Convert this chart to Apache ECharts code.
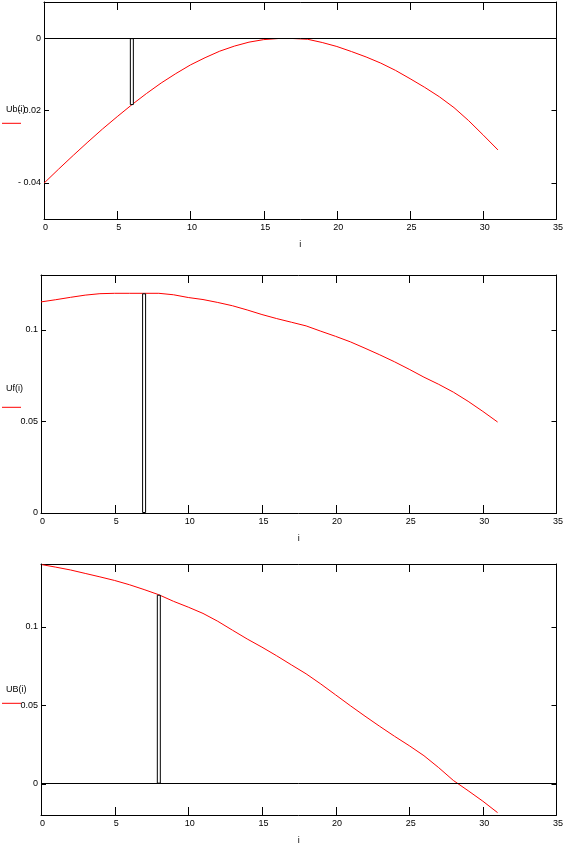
<!DOCTYPE html>
<html>
<head>
<meta charset="utf-8">
<script src="https://cdn.jsdelivr.net/npm/echarts@6/dist/echarts.min.js"></script>
<style>
html,body{margin:0;padding:0;background:#fff;}
#chart{width:566px;height:846px;}
</style>
</head>
<body>
<div id="chart"></div>
<script>
// index values i = 0..31
const iValues = [0,1,2,3,4,5,6,7,8,9,10,11,12,13,14,15,16,17,18,19,20,21,22,23,24,25,26,27,28,29,30,31];

// Plot 1: Ub(i)
const ub = [-0.0401,-0.0362,-0.0324,-0.0287,-0.0251,-0.0217,-0.0184,-0.0153,-0.0124,-0.0098,
            -0.0074,-0.0054,-0.0036,-0.0022,-0.0011,-0.0004,-0.0001,-0.0001,-0.0003,-0.0012,
            -0.0023,-0.0037,-0.0052,-0.0069,-0.0089,-0.0112,-0.0136,-0.0162,-0.0192,-0.0228,
            -0.0268,-0.0309];
// Plot 2: Uf(i)
const uf = [0.1153,0.1165,0.1178,0.1190,0.1198,0.1200,0.1200,0.1200,0.1200,0.1192,
            0.1177,0.1166,0.1150,0.1132,0.1109,0.1084,0.1062,0.1042,0.1022,0.0993,
            0.0965,0.0935,0.0900,0.0864,0.0826,0.0785,0.0742,0.0703,0.0660,0.0610,
            0.0555,0.0497];
// Plot 3: UB(i)
const uB = [0.1397,0.1380,0.1362,0.1340,0.1318,0.1295,0.1268,0.1237,0.1204,0.1162,
            0.1125,0.1085,0.1035,0.0978,0.0922,0.0870,0.0815,0.0757,0.0700,0.0635,
            0.0566,0.0497,0.0430,0.0365,0.0302,0.0242,0.0178,0.0102,0.0020,-0.0045,
            -0.0112,-0.0185];

// marker bars
const barIndex = [6, 7, 8];
const barValues = [-0.0185, 0.1200, 0.1204];

// axis settings
const legendNames = ['Ub(i)', 'Uf(i)', 'UB(i)'];
const xTickValues = [0,5,10,15,20,25,30,35];
const yRanges = [[-0.05, 0.01], [0, 0.13], [-0.02, 0.14]];
const yTickValues = [[-0.04, -0.02, 0], [0, 0.05, 0.1], [0, 0.05, 0.1]];
const xName = 'i';

const FONT = "'Liberation Sans', Arial, sans-serif";

const grids = [
  {left: 44, top: 2, width: 513, height: 217},
  {left: 41, top: 275, width: 516, height: 238},
  {left: 41, top: 564, width: 516, height: 252}
];
const legendPos = [{ty: 111.5, ly: 123.3}, {ty: 390, ly: 407.3}, {ty: 691, ly: 703.3}];

function fmtY(v) {
  if (Math.abs(v) < 1e-12) return '0';
  const s = String(Math.round(Math.abs(v) * 1000) / 1000);
  return v < 0 ? '- ' + s : s;
}

const xAxes = [], yAxes = [], series = [], graphics = [];
const seriesData = [ub, uf, uB];
const axisLineStyle = {show: true, onZero: false, lineStyle: {color: '#000', width: 1}};
const X_TICK_LEN = 8, Y_TICK_LEN = 5;

grids.forEach((g, k) => {
  g.show = false;
  const yMin = yRanges[k][0], yMax = yRanges[k][1];
  // bottom x
  xAxes.push({
    type: 'value', gridIndex: k, min: 0, max: 35, position: 'bottom',
    name: xName, nameLocation: 'middle', nameGap: 21,
    nameTextStyle: {color: '#000', fontFamily: FONT, fontSize: 9},
    axisLine: axisLineStyle,
    axisTick: {show: false},
    axisLabel: {show: true, color: '#000', fontFamily: FONT, fontSize: 9, margin: 4, padding: [0,0,0,3], customValues: xTickValues},
    splitLine: {show: false}
  });
  // top x (frame only)
  xAxes.push({
    type: 'value', gridIndex: k, min: 0, max: 35, position: 'top',
    axisLine: axisLineStyle, axisTick: {show: false}, axisLabel: {show: false}, splitLine: {show: false}
  });
  // left y
  yAxes.push({
    type: 'value', gridIndex: k, min: yMin, max: yMax, position: 'left',
    axisLine: axisLineStyle,
    axisTick: {show: false},
    axisLabel: {show: true, color: '#000', fontFamily: FONT, fontSize: 9, margin: 3,
      customValues: yTickValues[k], formatter: fmtY},
    splitLine: {show: false}
  });
  // right y (frame only)
  yAxes.push({
    type: 'value', gridIndex: k, min: yMin, max: yMax, position: 'right',
    axisLine: axisLineStyle, axisTick: {show: false}, axisLabel: {show: false}, splitLine: {show: false}
  });

  const lineSeries = {
    type: 'line', xAxisIndex: 2 * k, yAxisIndex: 2 * k,
    data: iValues.map((x, j) => [x, seriesData[k][j]]),
    showSymbol: false, symbol: 'none',
    lineStyle: {color: '#ff0000', width: 1},
    z: 3, silent: true
  };
  if (yMin < 0) {
    lineSeries.markLine = {
      silent: true, symbol: ['none', 'none'], label: {show: false},
      lineStyle: {color: '#000', width: 1, type: 'solid'},
      data: [{yAxis: 0}]
    };
  }
  series.push(lineSeries);
  series.push({
    type: 'bar', xAxisIndex: 2 * k, yAxisIndex: 2 * k,
    data: [[barIndex[k], barValues[k]]],
    barWidth: 4,
    itemStyle: {color: '#fff', borderColor: '#000', borderWidth: 1},
    z: 4, silent: true
  });
  // inward x ticks on bottom and top edges
  series.push({
    type: 'custom', xAxisIndex: 2 * k, yAxisIndex: 2 * k, silent: true, z: 5, clip: false,
    data: xTickValues.map(v => [v, yMin]),
    renderItem: function (params, api) {
      const xv = api.value(0);
      const pb = api.coord([xv, yMin]);
      const pt = api.coord([xv, yMax]);
      const st = {stroke: '#000', lineWidth: 1};
      const x = Math.round(pb[0]) + 0.5;
      return {type: 'group', children: [
        {type: 'line', shape: {x1: x, y1: pb[1], x2: x, y2: pb[1] - X_TICK_LEN}, style: st},
        {type: 'line', shape: {x1: x, y1: pt[1], x2: x, y2: pt[1] + X_TICK_LEN}, style: st}
      ]};
    }
  });
  // inward y ticks on left and right edges
  series.push({
    type: 'custom', xAxisIndex: 2 * k, yAxisIndex: 2 * k, silent: true, z: 5, clip: false,
    data: yTickValues[k].map(v => [0, v]),
    renderItem: function (params, api) {
      const yv = api.value(1);
      const pl = api.coord([0, yv]);
      const pr = api.coord([35, yv]);
      const st = {stroke: '#000', lineWidth: 1};
      const y = Math.round(pl[1]) + 0.5;
      return {type: 'group', children: [
        {type: 'line', shape: {x1: pl[0], y1: y, x2: pl[0] + Y_TICK_LEN, y2: y}, style: st},
        {type: 'line', shape: {x1: pr[0], y1: y, x2: pr[0] - Y_TICK_LEN, y2: y}, style: st}
      ]};
    }
  });

  graphics.push({
    type: 'text', left: 6, top: legendPos[k].ty - 6,
    style: {text: legendNames[k], fill: '#000', font: '9px ' + FONT}
  });
  graphics.push({
    type: 'line',
    shape: {x1: 2, y1: legendPos[k].ly, x2: 21, y2: legendPos[k].ly},
    style: {stroke: '#ff0000', lineWidth: 1}
  });
});

const chart = echarts.init(document.getElementById('chart'), null, {renderer: 'canvas'});
chart.setOption({
  animation: false,
  backgroundColor: '#fff',
  grid: grids,
  xAxis: xAxes,
  yAxis: yAxes,
  series: series,
  graphic: graphics
});
</script>
</body>
</html>
